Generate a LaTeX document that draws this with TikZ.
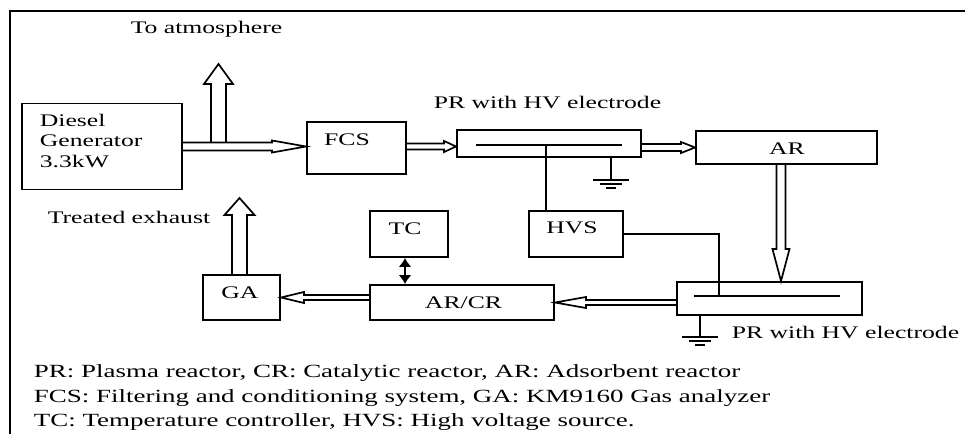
\documentclass[tikz,border=0pt]{standalone}
\usepackage{fontspec}
\setmainfont{Liberation Serif}
\usetikzlibrary{calc,arrows.meta}
\newcommand\sx[1]{\scalebox{1.45}[1]{#1}}
\newcommand\hollowarr[5]{%
  \coordinate (hb) at ($(#2)!#5!(#1)$);
  \draw[conn] ($(#1)!#3!90:(#2)$) -- ($(hb)!#3!90:(#2)$) -- ($(hb)!#4!90:(#2)$) -- (#2)
    -- ($(hb)!#4!-90:(#2)$) -- ($(hb)!#3!-90:(#2)$) -- ($(#1)!#3!-90:(#2)$);
}
\begin{document}
\begin{tikzpicture}[x=1pt,y=-1pt,line width=1.8pt,
  box/.style={draw,line width=1.9pt,inner sep=0pt},
  lbl/.style={inner sep=0pt,anchor=base,font=\fontsize{17.7}{20.5}\selectfont},
  leg/.style={inner sep=0pt,anchor=base west,font=\fontsize{18.6}{20.5}\selectfont},
  conn/.style={line width=1.7pt,line join=miter},
  gnd/.pic={\draw[line width=1.8pt] (-18,0) -- (18,0) (-11,4) -- (11,4) (-5,8) -- (5,8);}
]
\useasboundingbox (0,0) rectangle (965,434);
% frame
\draw[line width=2pt] (10,434) -- (10,10.5) -- (965,10.5);

% boxes
\node[box,minimum width=160,minimum height=86] (dg) at (102,146.5) {};
\node[box,minimum width=99,minimum height=52] (fcs) at (356.5,148) {};
\node[box,minimum width=184,minimum height=27] (pr1) at (549,143.5) {};
\node[box,minimum width=181,minimum height=33] (ar) at (786.5,147.5) {};
\node[box,minimum width=94,minimum height=46] (hvs) at (576,234) {};
\node[box,minimum width=78,minimum height=46] (tc) at (409,234) {};
\node[box,minimum width=184,minimum height=35] (arcr) at (462,302.5) {};
\node[box,minimum width=77,minimum height=45] (ga) at (241.5,297.5) {};
\node[box,minimum width=185,minimum height=33] (pr2) at (769.5,298.5) {};

% box texts
\node[lbl,anchor=base west] (dgt1) at (39,126) {\sx{Diesel}};
\node[lbl,anchor=base west] (dgt2) at (39,146.5) {\sx{Generator}};
\node[lbl,anchor=base west] (dgt3) at (39,167) {\sx{3.3kW}};
\node[lbl] (fcst) at (347,145.5) {\sx{FCS}};
\node[lbl] (art) at (787,154) {\sx{AR}};
\node[lbl] (hvst) at (572,233.3) {\sx{HVS}};
\node[lbl] (tct) at (405,234.3) {\sx{TC}};
\node[lbl] (gat) at (240,298.3) {\sx{GA}};
\node[lbl] (arcrt) at (463.5,308.3) {\sx{AR/CR}};

% free labels
\node[lbl] (atm) at (206.5,33) {\sx{To atmosphere}};
\node[lbl] (pr1l) at (547.5,108) {\sx{PR with HV electrode}};
\node[lbl] (trt) at (129,223) {\sx{Treated exhaust}};
\node[lbl] (pr2l) at (845.5,338) {\sx{PR with HV electrode}};

% legend
\node[leg] (lg1) at (33,377) {\sx{PR: Plasma reactor, CR: Catalytic reactor, AR: Adsorbent reactor}};
\node[leg] (lg2) at (33,402) {\sx{FCS: Filtering and conditioning system, GA: KM9160 Gas analyzer}};
\node[leg] (lg3) at (33,426.5) {\sx{TC: Temperature controller, HVS: High voltage source.}};

% electrodes
\coordinate (e1a) at (476,145); \coordinate (e1b) at (622,145); \coordinate (e1m) at (546,145);
\coordinate (e2a) at (694,296); \coordinate (e2b) at (840,296); \coordinate (e2m) at (719,296);
\draw (e1a) -- (e1b);
\draw (e2a) -- (e2b);
\draw (e1m) -- (hvs.north -| e1m);
\draw (hvs.east) -| (e2m);

% grounds
\coordinate (g1) at (611,180);
\coordinate (g2) at (700,337);
\draw (pr1.south -| g1) -- (g1);
\pic at (g1) {gnd};
\draw (pr2.south -| g2) -- (g2);
\pic at (g2) {gnd};

% TC <-> AR/CR
\coordinate (tcx) at (405,250);
\draw[line width=1.8pt,{Latex[length=9pt,width=13pt]}-{Latex[length=9pt,width=13pt]}] (tc.south -| tcx) -- (arcr.north -| tcx);

% hollow arrows
\coordinate (a1s) at (dg.east); \coordinate (a1e) at (fcs.west |- dg.east);
\hollowarr{a1s}{a1e}{4pt}{6pt}{34pt}
\coordinate (atm0) at (218.5,142.5); \coordinate (atm1) at (218.5,64);
\hollowarr{atm0}{atm1}{7.5pt}{14.5pt}{20pt}
\coordinate (a3s) at (fcs.east |- dg.east); \coordinate (a3e) at (pr1.west |- dg.east);
\hollowarr{a3s}{a3e}{3pt}{5.5pt}{12pt}
\coordinate (a4s) at (pr1.east |- ar.west); \coordinate (a4e) at (ar.west);
\hollowarr{a4s}{a4e}{3.5pt}{5.5pt}{14pt}
\coordinate (x5) at (781,200);
\coordinate (a5s) at (ar.south -| x5); \coordinate (a5e) at (pr2.north -| x5);
\hollowarr{a5s}{a5e}{4.5pt}{8.5pt}{32pt}
\coordinate (a6s) at (pr2.west |- arcr.east); \coordinate (a6e) at (arcr.east);
\hollowarr{a6s}{a6e}{2.5pt}{5.5pt}{31pt}
\coordinate (a7s) at (arcr.west |- ga.east); \coordinate (a7e) at (ga.east);
\hollowarr{a7s}{a7e}{2.5pt}{5.5pt}{23pt}
\coordinate (a8e) at (239.5,198); \coordinate (a8s) at (ga.north -| a8e);
\hollowarr{a8s}{a8e}{7.5pt}{15pt}{17pt}
\end{tikzpicture}
\end{document}
